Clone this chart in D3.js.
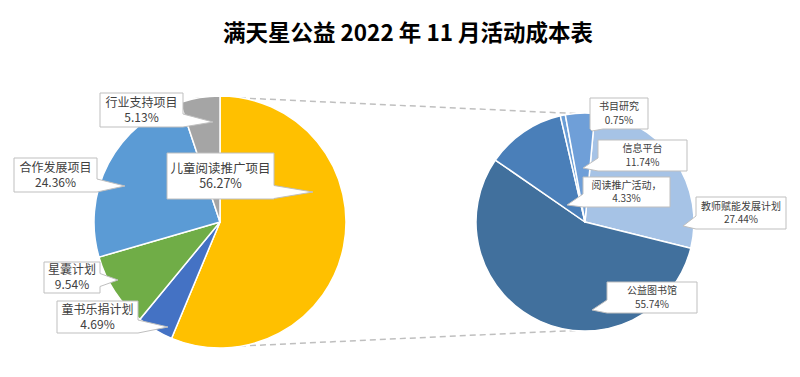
<!DOCTYPE html>
<html>
<head>
<meta charset="utf-8">
<script src="https://cdn.jsdelivr.net/npm/d3@7"></script>
<style>
  body { margin: 0; background: #fff; }
  svg { display: block; }
</style>
</head>
<body>
<svg id="chart" width="800" height="377"></svg>
<script>
// main pie
const mainCategories = ['儿童阅读推广项目', '童书乐捐计划', '星囊计划', '合作发展项目', '行业支持项目'];
const mainValues = [56.27, 4.69, 9.54, 24.36, 5.13];
const mainColors = ['#FFC000', '#4472C4', '#70AD47', '#5B9BD5', '#A5A5A5'];

// secondary pie (breakdown of 儿童阅读推广项目)
const subLabels = ['教师赋能发展计划', '公益图书馆', '信息平台', '书目研究', '阅读推广活动，'];
const subValues = [27.44, 55.74, 11.74, 0.75, 4.33];
const subColors = ['#A6C3E6', '#41709D', '#4A7FB9', '#6B9ED6', '#6F9FD8'];

const title = '满天星公益 2022 年 11 月活动成本表';
const fontFamily = '"Noto Sans CJK SC", "Noto Sans", sans-serif';

const svg = d3.select('#chart');

// layout
const mainPie = { cx: 220, cy: 222, r: 126, start: 0 };
const subPie = { cx: 585, cy: 222, r: 109, start: 5.2 * Math.PI / 180 };

// label boxes: centre offset from pie centre, size, pointer tip offset from pie centre
const mainLabelLayout = [
    { dx: 0.5, dy: -46, w: 107, h: 46, tx: 93, ty: -30, fs: 12.5, lh: 14.5 },
    { dx: -122.5, dy: 95, w: 81, h: 32, tx: -52, ty: 105, fs: 12, lh: 15 },
    { dx: -148, dy: 55.5, w: 56, h: 31, tx: -102, ty: 58, fs: 12, lh: 15 },
    { dx: -164.5, dy: -47, w: 83, h: 34, tx: -95, ty: -36, fs: 12, lh: 15 },
    { dx: -78.5, dy: -112, w: 83, h: 34, tx: -7, ty: -100, fs: 12, lh: 15 }
];
const subLabelLayout = [
    { dx: 156, dy: -9, w: 90, h: 32, tx: 98, ty: 4, fs: 10, lh: 13.5 },
    { dx: 67, dy: 75.5, w: 90, h: 31, tx: 7, ty: 88, fs: 10, lh: 13.5 },
    { dx: 57.5, dy: -66.5, w: 89, h: 31, tx: -2, ty: -54, fs: 10, lh: 13.5 },
    { dx: 34, dy: -108.5, w: 58, h: 31, tx: 7, ty: -91, fs: 10, lh: 13.5 },
    { dx: 41.5, dy: -30, w: 87, h: 30, tx: -18, ty: -17, fs: 10, lh: 13 }
];

// title
svg.append('text')
    .attr('x', 408)
    .attr('y', 41)
    .attr('text-anchor', 'middle')
    .style('font-family', fontFamily)
    .style('font-size', '22.5px')
    .style('font-weight', 'bold')
    .style('fill', '#000')
    .text(title);

// connector lines between pies
const lines = svg.append('g')
    .attr('stroke', '#BFBFBF')
    .attr('stroke-width', 1.5)
    .attr('stroke-dasharray', '6,4')
    .attr('fill', 'none');
lines.append('line')
    .attr('x1', mainPie.cx).attr('y1', mainPie.cy - mainPie.r + 1)
    .attr('x2', subPie.cx).attr('y2', subPie.cy - subPie.r + 1);
lines.append('line')
    .attr('x1', mainPie.cx).attr('y1', mainPie.cy + mainPie.r - 1)
    .attr('x2', subPie.cx).attr('y2', subPie.cy + subPie.r - 1);

function drawPie(p, values, colors) {
    const pie = d3.pie().sort(null).startAngle(p.start).endAngle(p.start + Math.PI * 2);
    const arc = d3.arc().innerRadius(0).outerRadius(p.r);
    const g = svg.append('g').attr('transform', `translate(${p.cx},${p.cy})`);
    g.selectAll('path')
        .data(pie(values))
        .enter()
        .append('path')
        .attr('d', arc)
        .attr('fill', (d, i) => colors[i])
        .attr('stroke', '#fff')
        .attr('stroke-width', 1.5)
        .attr('stroke-linejoin', 'round');
    return g;
}

// callout box path with a wedge pointing at the tip
function calloutPath(x, y, w, h, tx, ty) {
    const x2 = x + w, y2 = y + h;
    const bw = 13;
    const clamp = (v, a, b) => Math.max(a, Math.min(b, v));
    let side;
    if (tx > x2) side = 'right';
    else if (tx < x) side = 'left';
    else if (ty > y2) side = 'bottom';
    else side = 'top';
    const pts = [];
    // clockwise from top-left
    pts.push([x, y]);
    if (side === 'top') {
        const c = clamp(tx, x + bw / 2, x2 - bw / 2);
        pts.push([c - bw / 2, y], [tx, ty], [c + bw / 2, y]);
    }
    pts.push([x2, y]);
    if (side === 'right') {
        const c = clamp(ty, y + bw / 2, y2 - bw / 2);
        pts.push([x2, c - bw / 2], [tx, ty], [x2, c + bw / 2]);
    }
    pts.push([x2, y2]);
    if (side === 'bottom') {
        const c = clamp(tx, x + bw / 2, x2 - bw / 2);
        pts.push([c + bw / 2, y2], [tx, ty], [c - bw / 2, y2]);
    }
    pts.push([x, y2]);
    if (side === 'left') {
        const c = clamp(ty, y + bw / 2, y2 - bw / 2);
        pts.push([x, c + bw / 2], [tx, ty], [x, c - bw / 2]);
    }
    return 'M' + pts.map(q => q.join(',')).join('L') + 'Z';
}

function drawLabels(p, labels, values, layout) {
    const g = svg.append('g');
    labels.forEach((name, i) => {
        const L = layout[i];
        const bx = p.cx + L.dx - L.w / 2;
        const by = p.cy + L.dy - L.h / 2;
        g.append('path')
            .attr('d', calloutPath(bx, by, L.w, L.h, p.cx + L.tx, p.cy + L.ty))
            .attr('fill', '#fff')
            .attr('stroke', '#BFBFBF')
            .attr('stroke-width', 1);
        const t = g.append('text')
            .attr('text-anchor', 'middle')
            .style('font-family', fontFamily)
            .style('font-size', L.fs + 'px')
            .style('fill', '#404040');
        t.append('tspan')
            .attr('x', p.cx + L.dx)
            .attr('y', p.cy + L.dy - L.lh / 2 + L.fs * 0.35)
            .text(name);
        t.append('tspan')
            .attr('x', p.cx + L.dx)
            .attr('y', p.cy + L.dy + L.lh / 2 + L.fs * 0.35)
            .text(values[i].toFixed(2) + '%');
    });
}

drawPie(mainPie, mainValues, mainColors);
drawPie(subPie, subValues, subColors);
drawLabels(mainPie, mainCategories, mainValues, mainLabelLayout);
drawLabels(subPie, subLabels, subValues, subLabelLayout);
</script>
</body>
</html>
